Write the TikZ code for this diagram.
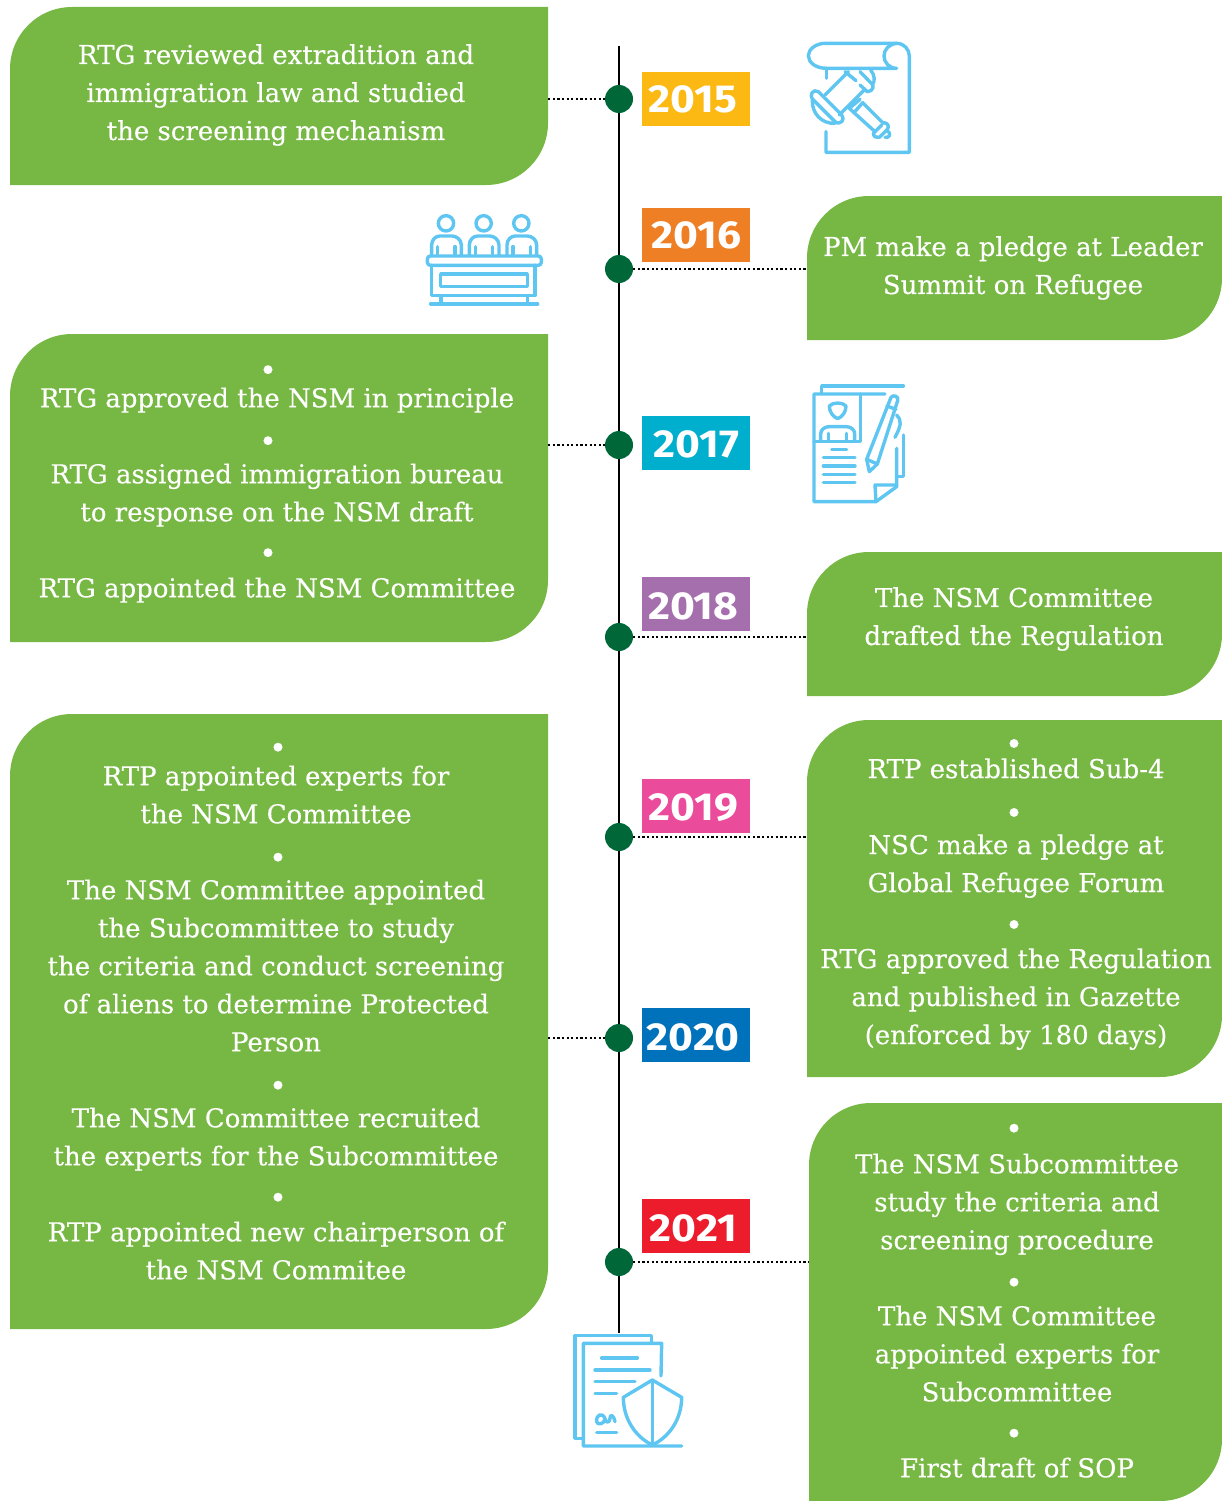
\documentclass[tikz,border=0pt]{standalone}
\usepackage{fontspec}
\newfontfamily\bodyf[FakeBold=0.3]{DejaVu Serif}
\newfontfamily\yearf[FakeStretch=1.09]{Fira Sans}
\definecolor{pgreen}{HTML}{76B843}
\definecolor{dgreen}{HTML}{006838}
\definecolor{iconb}{HTML}{5FC6F1}
\definecolor{y15}{HTML}{FCB913}
\definecolor{y16}{HTML}{EF7F25}
\definecolor{y17}{HTML}{00AECD}
\definecolor{y18}{HTML}{A56FAD}
\definecolor{y19}{HTML}{EB4B9B}
\definecolor{y20}{HTML}{0071BB}
\definecolor{y21}{HTML}{EC1C2D}
\tikzset{
  x=1pt,y=-1pt,
  paneltext/.style={font=\bodyf\fontsize{26}{38}\selectfont,text=white,align=center,inner sep=0pt},
  yearbox/.style={minimum width=108pt,minimum height=54pt,inner sep=0pt,anchor=north west,text=white,font=\yearf\bfseries\fontsize{39}{39}\selectfont},
  yeardot/.style={circle,fill=dgreen,minimum size=28pt,inner sep=0pt},
  dotline/.style={line width=2pt,black,dash pattern=on 2.2pt off 2.4pt},
  iconline/.style={iconb,line width=3.4pt,line cap=round,line join=round},
}
\newcommand{\panelbox}[6]{% name x1 y1 x2 y2 r
  \fill[pgreen] (#2,#5) [rounded corners=#6pt] -- (#2,#3) [sharp corners] -- (#4,#3) [rounded corners=#6pt] -- (#4,#5) [sharp corners] -- cycle;
  \node[minimum width={#4-#2},minimum height={#5-#3},inner sep=0pt] (#1) at ({(#2+#4)/2},{(#3+#5)/2}) {};
}
% first argument: horizontal offset of the bullet, second: vertical raise
\newcommand{\bl}[2]{\makebox[0pt]{\hspace*{#1pt}\raisebox{#2pt}[0pt][0pt]{\fontsize{30}{30}\selectfont •}}}
% a year label lowered inside its box without moving the box
\newcommand{\yr}[2]{\raisebox{#1pt}[\height][\depth]{#2}}
\begin{document}
\begin{tikzpicture}
\useasboundingbox (0,0) rectangle (1222,1501);
% panels
\panelbox{p15}{10}{7}{548}{185}{62}
\panelbox{p16}{807}{196}{1222}{340}{62}
\panelbox{p17}{10}{334}{548}{642}{62}
\panelbox{p18}{807}{552}{1222}{696}{62}
\panelbox{p20}{10}{714}{548}{1329}{62}
\panelbox{p19}{807}{720}{1222}{1077}{62}
\panelbox{p21}{809}{1103}{1222}{1501}{62}
% timeline
\coordinate (ltop) at (619,46);
\coordinate (lbot) at (619,1333);
\draw[black,line width=2pt] (ltop) -- (lbot);
\node[yeardot] (d15) at (619,99) {};
\node[yeardot] (d16) at (619,269) {};
\node[yeardot] (d17) at (619,445) {};
\node[yeardot] (d18) at (619,637) {};
\node[yeardot] (d19) at (619,837) {};
\node[yeardot] (d20) at (619,1038) {};
\node[yeardot] (d21) at (619,1262) {};
\draw[dotline] (p15.east |- d15) -- (d15);
\draw[dotline] (d16) -- (p16.west |- d16);
\draw[dotline] (p17.east |- d17) -- (d17);
\draw[dotline] (d18) -- (p18.west |- d18);
\draw[dotline] (d19) -- (p19.west |- d19);
\draw[dotline] (p20.east |- d20) -- (d20);
\draw[dotline] (d21) -- (p21.west |- d21);
% years
\node[yearbox,fill=y15] (y2015) at (642,72) {\hspace*{-6pt}2015};
\node[yearbox,fill=y16] (y2016) at (642,208) {2016};
\node[yearbox,fill=y17] (y2017) at (642,416) {\yr{-1.5}{2017}};
\node[yearbox,fill=y18] (y2018) at (642,577) {\hspace*{-6pt}\yr{-2}{2018}};
\node[yearbox,fill=y19] (y2019) at (642,779) {\hspace*{-6pt}\yr{-1}{2019}};
\node[yearbox,fill=y20] (y2020) at (642,1008) {\hspace*{-6pt}\yr{-2}{2020}};
\node[yearbox,fill=y21] (y2021) at (642,1199) {\hspace*{-6pt}\yr{-2.5}{2021}};
% texts
\node[paneltext] (t15) at (276,95) {RTG reviewed extradition and\\immigration law and studied\\the screening mechanism};
\node[paneltext] (t16) at (1013,268) {PM make a pledge at Leader\\Summit on Refugee};
\node[paneltext] (t17) at (277,486) {\bl{-18}{-11.5}\\RTG approved the NSM in principle\\\bl{-18}{-6.5}\\RTG assigned immigration bureau\\to response on the NSM draft\\\bl{-18}{-4.5}\\RTG appointed the NSM Committee};
\node[paneltext] (t18) at (1014,619) {The NSM Committee\\drafted the Regulation};
\node[paneltext] (t20) at (276,1013.5) {\bl{4}{-11}\\RTP appointed experts for\\the NSM Committee\\\bl{4}{-7}\\The NSM Committee appointed\\the Subcommittee to study\\the criteria and conduct screening\\of aliens to determine Protected\\Person\\\bl{4}{-7}\\The NSM Committee recruited\\the experts for the Subcommittee\\\bl{4}{-5}\\RTP appointed new chairperson of\\the NSM Commitee};
\node[paneltext] (t19) at (1016,895) {\bl{-4}{-14.5}\\RTP established Sub-4\\\bl{-4}{-7.5}\\NSC make a pledge at\\Global Refugee Forum\\\bl{-4}{-5.5}\\RTG approved the Regulation\\and published in Gazette\\(enforced by 180 days)};
\node[paneltext] (t21) at (1017,1306.5) {\bl{-6}{-4}\\The NSM Subcommittee\\study the criteria and\\screening procedure\\\bl{-6}{-6}\\The NSM Committee\\appointed experts for\\Subcommittee\\\bl{-6}{-5}\\First draft of SOP};
% icon gavel scroll
\begin{scope}[shift={(780,20)},x=0.3333pt,y=-0.3333pt,iconline]
\draw (140,145) .. controls (108,145) and (85,128) .. (85,107) .. controls (85,88) and (108,70) .. (135,70) -- (350,70) .. controls (372,70) and (388,88) .. (388,108) -- (388,397) -- (138,397) -- (138,335);
\draw (350,70) .. controls (328,72) and (312,88) .. (312,108) .. controls (312,128) and (328,145) .. (350,145) -- (140,145);
\draw (140,145) -- (140,175);
\draw (205,155) -- (135,225);
\draw (150,250) -- (115,215) .. controls (100,205) and (85,225) .. (100,240) -- (165,305) .. controls (180,318) and (198,298) .. (185,285) -- (150,250);
\draw (97,240) .. controls (95,280) and (125,312) .. (165,310);
\draw (178,285) -- (253,210);
\draw (195,155) -- (228,182);
\draw (240,195) -- (262,215) .. controls (280,215) and (285,195) .. (272,188) -- (240,155);
\draw (272,150) .. controls (285,165) and (285,185) .. (278,192);
\draw (240,238) -- (208,265) -- (222,278) -- (248,248);
\draw (248,248) -- (310,310);
\draw (222,278) -- (285,335);
\draw (312,308) .. controls (325,310) and (328,320) .. (322,328) -- (298,352) .. controls (290,355) and (280,350) .. (280,340) -- (305,315);
\draw (320,330) .. controls (335,340) and (330,355) .. (315,352);
\end{scope}
% icon panel
\begin{scope}[shift={(410,200)},x=0.3333pt,y=-0.3333pt,iconline]
\foreach \cx in {108,221,334}{
  \draw (\cx,70) circle (23);
  \draw (\cx-43,165) -- (\cx-43,135) .. controls (\cx-43,118) and (\cx-30,108) .. (\cx-18,108) -- (\cx+18,108) .. controls (\cx+30,108) and (\cx+46,118) .. (\cx+46,135) -- (\cx+46,165);
  \draw (\cx-25,140) -- (\cx-25,162);
  \draw (\cx+27,140) -- (\cx+27,162);
}
\draw[rounded corners=3pt] (52,168) rectangle (394,196);
\draw (65,196) -- (65,287) -- (375,287) -- (375,196);
\draw (92,222) rectangle (352,260);
\draw (93,290) -- (93,310);
\draw (352,290) -- (352,310);
\draw (62,312) -- (383,312);
\end{scope}
% icon document and pen
\begin{scope}[shift={(790,370)},x=0.3333pt,y=-0.3333pt,iconline]
\draw (95,68) -- (95,48) -- (340,48);
\draw (285,72) -- (72,72) -- (72,395) -- (258,395) -- (320,350) -- (320,235);
\draw (258,395) -- (255,345) -- (320,345);
\draw (212,72) -- (212,215) -- (72,215);
\draw (143,146) .. controls (128,140) and (118,125) .. (118,108) .. controls (128,96) and (158,96) .. (168,108) .. controls (168,125) and (158,140) .. (143,146);
\draw (92,212) -- (92,192) .. controls (92,178) and (105,170) .. (118,170) -- (168,170) .. controls (182,170) and (194,178) .. (194,192) -- (194,212);
\draw (116,190) -- (116,212);
\draw (170,190) -- (170,212);
\draw (125,238) -- (170,238);
\foreach \ly in {263,288,313,338}{\draw (100,\ly) -- (195,\ly);}
\draw (340,195) -- (340,320) -- (322,320);
\draw (303,82) .. controls (310,72) and (328,80) .. (323,92) -- (262,282) -- (230,268) -- cycle;
\draw (291,108) -- (318,118);
\draw (230,268) -- (238,305) -- (262,282);
\draw (320,135) .. controls (335,150) and (335,165) .. (315,202);
\end{scope}
% icon documents and shield
\begin{scope}[shift={(560,1320)},x=0.3333pt,y=-0.3333pt,iconline]
\draw (275,68) -- (275,46) -- (45,46) -- (45,355) -- (68,355);
\draw (303,168) -- (305,70) -- (70,70) -- (70,378) -- (365,378);
\draw (125,114) -- (232,114);
\draw (105,150) -- (270,150);
\draw (105,185) -- (225,185);
\draw (105,220) -- (170,220);
\draw (110,338) -- (170,338);
\draw (135,295) .. controls (125,275) and (108,285) .. (110,305) .. controls (112,318) and (135,312) .. (135,295) .. controls (135,310) and (150,310) .. (150,295) .. controls (150,282) and (160,282) .. (165,305);
\draw (277,180) -- (190,232) .. controls (190,295) and (225,350) .. (277,375) .. controls (330,350) and (365,295) .. (365,232) -- cycle;
\draw (277,180) -- (277,375);
\end{scope}
\end{tikzpicture}
\end{document}
